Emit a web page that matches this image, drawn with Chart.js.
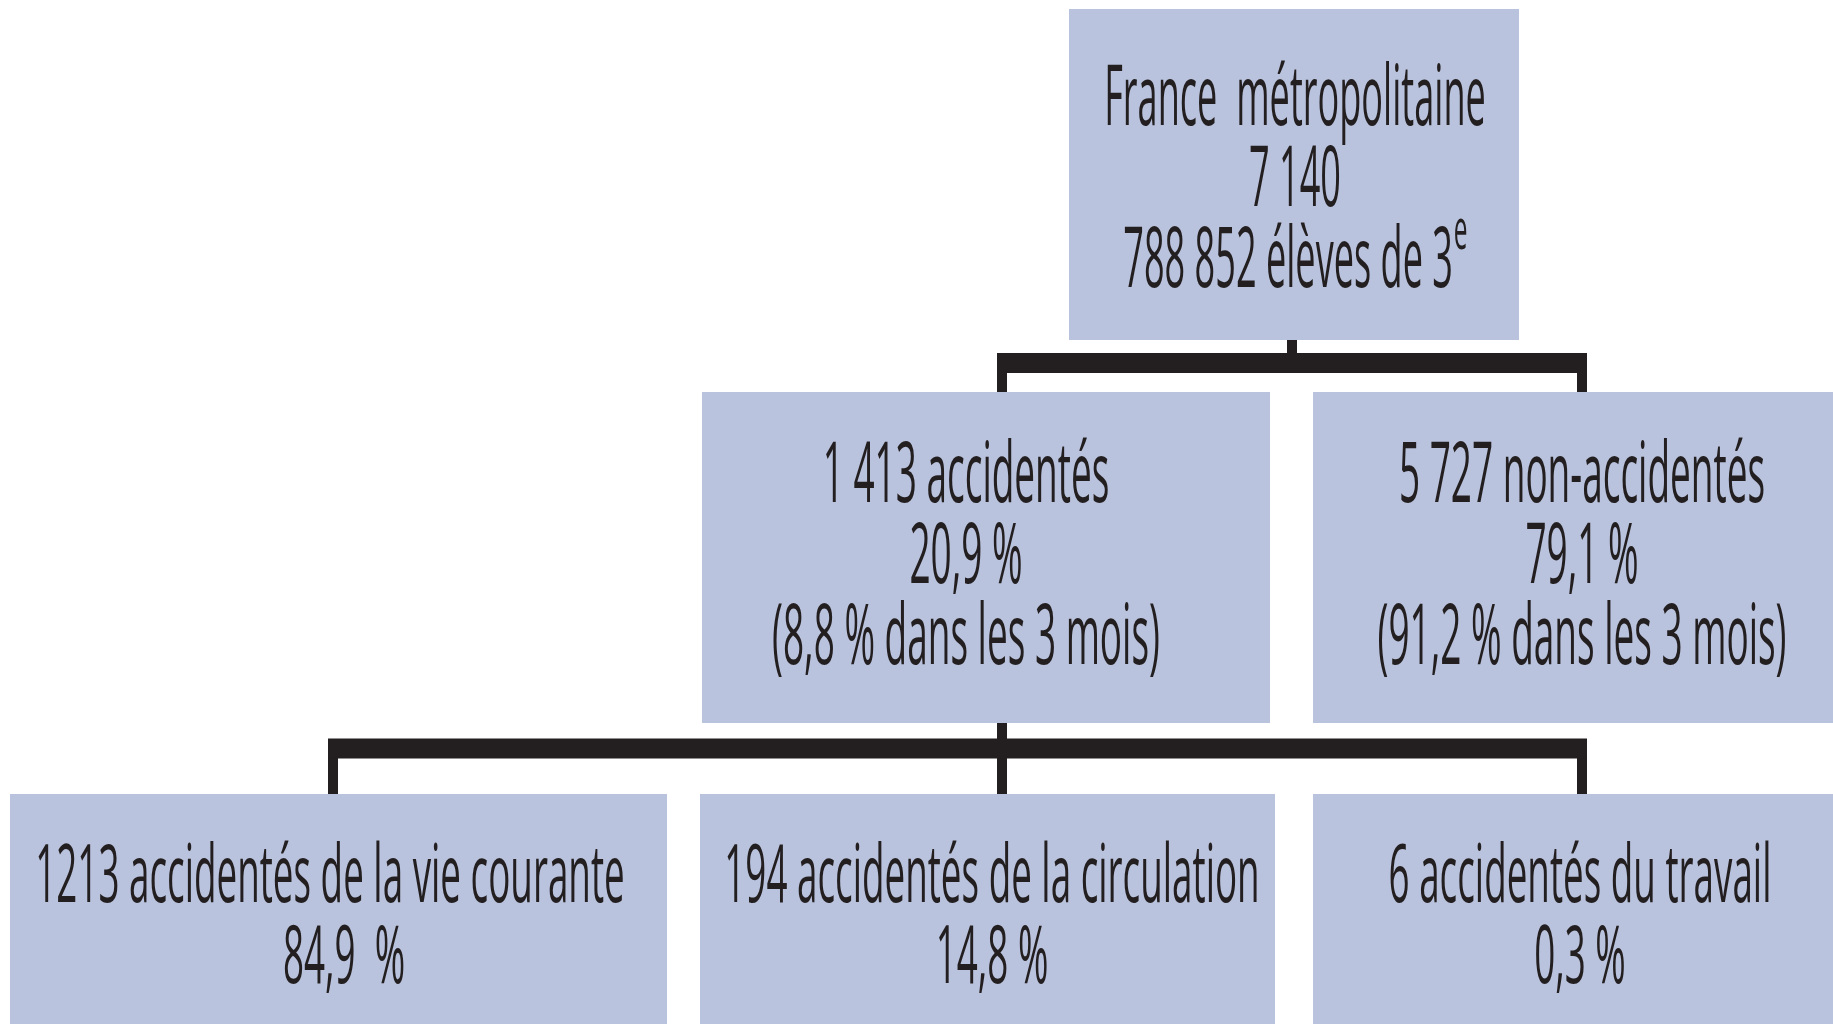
<!DOCTYPE html>
<html lang="fr">
<head>
<meta charset="utf-8">
<title>Élèves de 3e accidentés</title>
<script src="https://cdn.jsdelivr.net/npm/chart.js@4"></script>
<style>
  html, body { margin: 0; padding: 0; background: #fff; }
  #tree { display: block; }
</style>
</head>
<body>
<canvas id="tree" width="1833" height="1024"></canvas>
<script>
const nodeNames = ['France  métropolitaine', 'accidentés', 'non-accidentés',
  'accidentés de la vie courante', 'accidentés de la circulation', 'accidentés du travail'];
const nodeCounts = [7140, 1413, 5727, 1213, 194, 6];
const nodeShares = [null, 20.9, 79.1, 84.9, 14.8, 0.3];
const threeMonthShares = [null, 8.8, 91.2, null, null, null];
const pupilsTotal = 788852;
const parentOf = [-1, 0, 0, 1, 1, 1];

// mise en page, en pixels du canvas
const boxLeft   = [1069, 702, 1313, 10, 700, 1313];
const boxRight  = [1519, 1270, 1845, 667, 1275, 1845];
const boxTop    = [9, 392, 392, 794, 794, 794];
const boxBottom = [340, 723, 723, 1045, 1045, 1045];
const stemX     = [1292, 1002, 1582, 333, 1002, 1582];
const textX     = [1295, 966, 1582, 330, 992, 1580];
const firstBaseline = [125, 502, 502, 902, 902, 902];
const busY = { 0: 363, 1: 748.5 };

const boxColor = '#bac3dd';
const inkColor = '#231f20';

function grouped(n) {
  return String(n).replace(/\B(?=(\d{3})+(?!\d))/g, ' ');
}
function pct(v, gap) {
  return v.toFixed(1).replace('.', ',') + (gap || ' ') + '%';
}

function linesFor(i) {
  if (i === 0) {
    return [nodeNames[0], grouped(nodeCounts[0]), grouped(pupilsTotal) + ' élèves de 3'];
  }
  if (parentOf[i] === 0) {
    return [grouped(nodeCounts[i]) + ' ' + nodeNames[i], pct(nodeShares[i]),
      '(' + pct(threeMonthShares[i]) + ' dans les 3 mois)'];
  }
  // le document d'origine a une double espace dans « 84,9  % »
  return [nodeCounts[i] + ' ' + nodeNames[i], pct(nodeShares[i], i === 3 ? '  ' : ' ')];
}

// connecteurs : tige du parent, barre horizontale, tiges des enfants
const connectorSets = [];
Object.keys(busY).forEach(k => {
  const p = Number(k);
  const kids = parentOf.map((q, i) => q === p ? i : -1).filter(i => i >= 0);
  const y = busY[p];
  const xs = kids.map(c => stemX[c]);
  connectorSets.push({ data: [{ x: stemX[p], y: boxBottom[p] }, { x: stemX[p], y: y }], borderWidth: 10 });
  connectorSets.push({ data: [{ x: Math.min(...xs) - 5, y: y }, { x: Math.max(...xs) + 5, y: y }], borderWidth: 20 });
  kids.forEach(c => {
    connectorSets.push({ data: [{ x: stemX[c], y: y }, { x: stemX[c], y: boxTop[c] }], borderWidth: 10 });
  });
});

function drawText(ctx, text, cx, y, size, squeeze, sup) {
  ctx.save();
  ctx.translate(cx, y);
  ctx.scale(squeeze, 1);
  ctx.fillStyle = inkColor;
  ctx.textBaseline = 'alphabetic';
  ctx.font = size + 'px "Open Sans"';
  if (sup) {
    const w = ctx.measureText(text).width;
    ctx.font = Math.round(size * 0.68) + 'px "Open Sans"';
    const ws = ctx.measureText(sup).width;
    const start = -(w + ws) / 2;
    ctx.textAlign = 'left';
    ctx.fillText(sup, start + w + 2, -size * 0.45);
    ctx.font = size + 'px "Open Sans"';
    ctx.fillText(text, start, 0);
  } else {
    ctx.textAlign = 'center';
    ctx.fillText(text, 0, 0);
  }
  ctx.restore();
}

const boxesPlugin = {
  id: 'treeBoxes',
  beforeDatasetsDraw(chart) {
    const { ctx, scales: { x, y } } = chart;
    ctx.save();
    ctx.fillStyle = boxColor;
    nodeNames.forEach((n, i) => {
      const l = x.getPixelForValue(boxLeft[i]);
      const r = x.getPixelForValue(boxRight[i]);
      const t = y.getPixelForValue(boxTop[i]);
      const b = y.getPixelForValue(boxBottom[i]);
      ctx.fillRect(l, t, r - l, b - t);
    });
    ctx.restore();
  },
  afterDatasetsDraw(chart) {
    const { ctx, scales: { x, y } } = chart;
    nodeNames.forEach((n, i) => {
      const size = i >= 3 ? 80 : 84;
      const squeeze = i >= 3 ? 0.46 : (i === 0 ? 0.43 : 0.44);
      linesFor(i).forEach((txt, j) => {
        const yy = y.getPixelForValue(firstBaseline[i] + j * 81);
        const sup = (i === 0 && j === 2) ? 'e' : null;
        // la ligne « 84,9  % » est décalée vers la droite dans l'original
        const dx = (i === 3 && j === 1) ? 14 : 0;
        drawText(ctx, txt, x.getPixelForValue(textX[i] + dx), yy, size, squeeze, sup);
      });
    });
  }
};

new Chart(document.getElementById('tree'), {
  type: 'scatter',
  data: {
    datasets: connectorSets.map(s => ({
      data: s.data,
      showLine: true,
      borderColor: inkColor,
      borderWidth: s.borderWidth,
      borderCapStyle: 'butt',
      pointRadius: 0,
      pointHoverRadius: 0
    }))
  },
  options: {
    responsive: false,
    animation: false,
    layout: { padding: 0 },
    plugins: { legend: { display: false }, tooltip: { enabled: false } },
    scales: {
      x: { type: 'linear', min: 0, max: 1833, display: false },
      y: { type: 'linear', min: 0, max: 1024, reverse: true, display: false }
    }
  },
  plugins: [boxesPlugin]
});
</script>
</body>
</html>
